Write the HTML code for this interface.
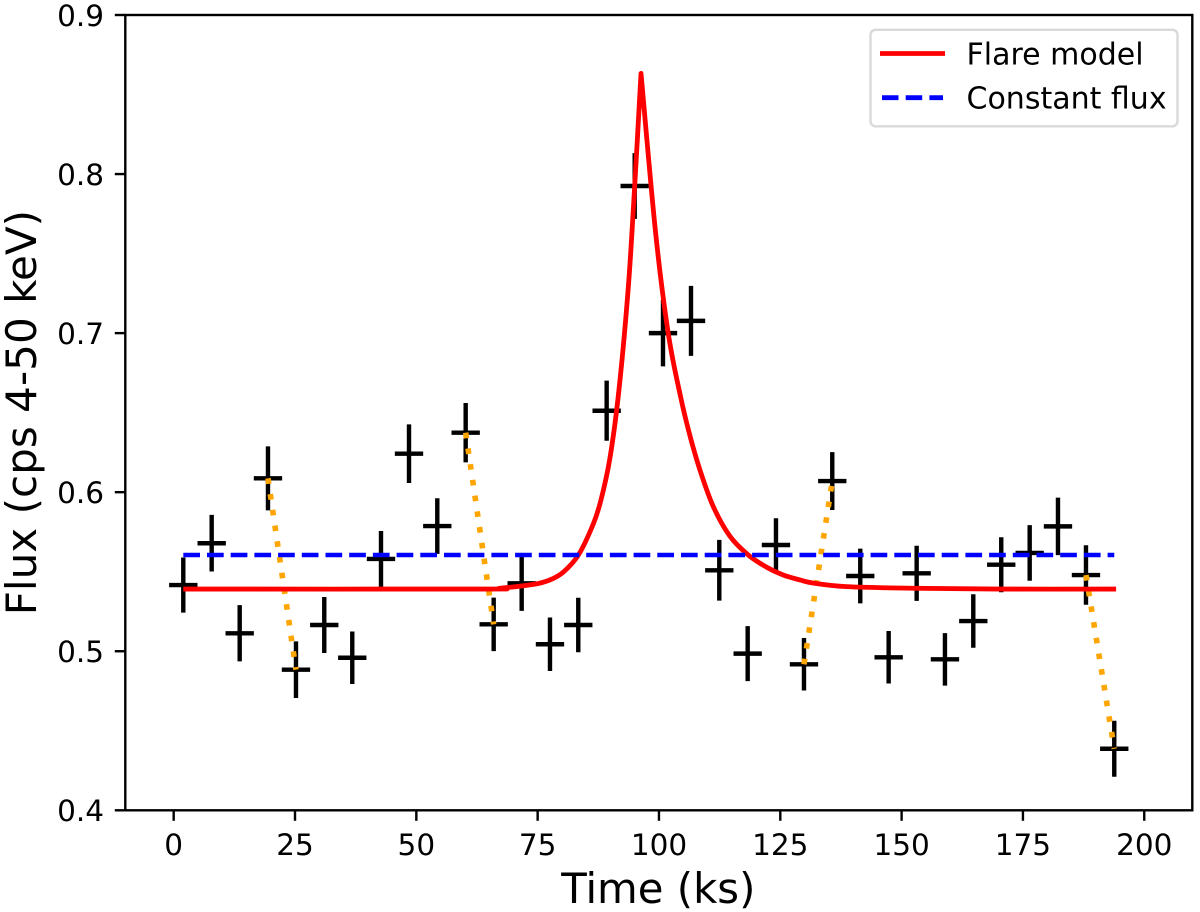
<!DOCTYPE html>
<html lang="en">
<head>
<meta charset="utf-8">
<title>Flare model light curve</title>
<style>
  html, body { margin: 0; padding: 0; background: #fff; }
  svg { display: block; font-family: "DejaVu Sans", "Liberation Sans", sans-serif; fill: #000; }
</style>
</head>
<body>
<svg id="chart" xmlns="http://www.w3.org/2000/svg" width="1200" height="912" viewBox="0 0 1200 912">
  <rect x="0" y="0" width="1200" height="912" fill="#fff"/>
  <g id="marks"></g>
  <g id="axes"></g>
  <text x="658.3" y="903" font-size="41.8" text-anchor="middle">Time (ks)</text>
  <text transform="translate(36 412.6) rotate(-90)" font-size="42.1" text-anchor="middle">Flux (cps 4-50 keV)</text>
  <g>
    <rect x="870.5" y="29.8" width="307" height="96.5" rx="5" fill="#fff" fill-opacity="0.8" stroke="#d9d9d9" stroke-width="2.4"/>
    <line x1="880" y1="53.5" x2="945" y2="53.5" stroke="#f00" stroke-width="4.8"/>
    <line x1="882" y1="97.7" x2="943" y2="97.7" stroke="#00f" stroke-width="4.8" stroke-dasharray="16.5 7.2"/>
    <text x="966.5" y="64.5" font-size="30">Flare model</text>
    <text x="966.5" y="108.3" font-size="30">Constant flux</text>
  </g>
</svg>
<script>
// ---- Data ----
const times = [1.98, 7.83, 13.6, 19.43, 25.2, 31.03, 36.8, 42.72, 48.49, 54.32, 60.17, 65.94, 71.71, 77.54, 83.37, 89.22, 95.0, 100.83, 106.6, 112.43, 118.28, 124.11, 129.88, 135.71, 141.48, 147.33, 153.1, 158.93, 164.77, 170.53, 176.39, 182.22, 187.99, 193.82];
const fluxes = [0.5416, 0.5679, 0.5113, 0.6087, 0.4884, 0.5165, 0.4959, 0.558, 0.6242, 0.5787, 0.6374, 0.5169, 0.5427, 0.5044, 0.5165, 0.6512, 0.7925, 0.7, 0.7077, 0.5509, 0.4985, 0.5668, 0.4918, 0.607, 0.5473, 0.4962, 0.549, 0.4949, 0.519, 0.5544, 0.5618, 0.5785, 0.5479, 0.4387];
const fluxErrors = [0.0173, 0.0178, 0.0177, 0.0201, 0.0178, 0.0176, 0.0165, 0.0176, 0.0184, 0.0175, 0.0187, 0.0168, 0.0173, 0.0168, 0.0171, 0.0189, 0.0207, 0.0209, 0.022, 0.0191, 0.0173, 0.0168, 0.0165, 0.0182, 0.0172, 0.0165, 0.0173, 0.0165, 0.0168, 0.0173, 0.0175, 0.0181, 0.0187, 0.0176];
const binHalfWidth = 2.92;
const flareTimes = [1.98, 63.1, 67.2, 74.1, 77.5, 80.3, 83.4, 86.46, 88.05, 89.9, 91.75, 93.67, 94.95, 96.3, 99.27, 101.9, 104.47, 106.4, 108.45, 111.2, 114.6, 118.4, 122.2, 125.6, 129.05, 131.7, 138.7, 152.3, 170.3, 194.2];
const flareFluxes = [0.5391, 0.5391, 0.5396, 0.542, 0.5448, 0.5498, 0.5605, 0.58, 0.5951, 0.6215, 0.6642, 0.7284, 0.79, 0.8633, 0.7642, 0.7001, 0.6598, 0.6353, 0.6139, 0.5909, 0.5724, 0.5605, 0.5528, 0.5479, 0.5448, 0.5429, 0.5406, 0.5396, 0.5391, 0.5391];
const constantFlux = 0.5605;
const linkedFrom = [3, 10, 22, 32];
const linkedTo = [4, 11, 23, 33];
const xTickValues = [0, 25, 50, 75, 100, 125, 150, 175, 200];
const yTickLabels = ['0.4', '0.5', '0.6', '0.7', '0.8', '0.9'];

// ---- Axis functions ----
const plotLeft = 125.3, plotRight = 1192.3, plotTop = 15, plotBottom = 810.3;
const xMin = -9.97, xMax = 209.9, yMin = 0.4, yMax = 0.9;
function xScale(t) { return plotLeft + (t - xMin) / (xMax - xMin) * (plotRight - plotLeft); }
function yScale(v) { return plotBottom - (v - yMin) / (yMax - yMin) * (plotBottom - plotTop); }

const NS = 'http://www.w3.org/2000/svg';
const marks = document.getElementById('marks');
const axes = document.getElementById('axes');
function make(tag, parent, props) {
  const node = document.createElementNS(NS, tag);
  for (const key in props) node.setAttribute(key, props[key]);
  parent.appendChild(node);
  return node;
}

// Smooth path through screen points (Catmull-Rom), keeping a sharp corner at the peak
function smoothSegment(pts) {
  let d = '';
  for (let i = 0; i < pts.length - 1; i++) {
    const p0 = pts[Math.max(i - 1, 0)], p1 = pts[i], p2 = pts[i + 1], p3 = pts[Math.min(i + 2, pts.length - 1)];
    const c1x = p1[0] + (p2[0] - p0[0]) / 6, c1y = p1[1] + (p2[1] - p0[1]) / 6;
    const c2x = p2[0] - (p3[0] - p1[0]) / 6, c2y = p2[1] - (p3[1] - p1[1]) / 6;
    d += ' C' + c1x.toFixed(2) + ' ' + c1y.toFixed(2) + ' ' + c2x.toFixed(2) + ' ' + c2y.toFixed(2) + ' ' + p2[0].toFixed(2) + ' ' + p2[1].toFixed(2);
  }
  return d;
}

// Error-bar crosses
times.forEach(function (t, i) {
  const g = make('g', marks, { stroke: '#000', 'stroke-width': 4.4 });
  
  
  make('line', g, { x1: xScale(t), x2: xScale(t), y1: yScale(fluxes[i] + fluxErrors[i]), y2: yScale(fluxes[i] - fluxErrors[i]) });
  make('line', g, { x1: xScale(t - binHalfWidth), x2: xScale(t + binHalfWidth), y1: yScale(fluxes[i]), y2: yScale(fluxes[i]) });
});

// Orange dotted links
linkedFrom.forEach(function (a, i) {
  const b = linkedTo[i];
  const link = make('line', marks, { x1: xScale(times[a]), y1: yScale(fluxes[a]), x2: xScale(times[b]), y2: yScale(fluxes[b]), stroke: '#ffa500', 'stroke-width': 5.6, 'stroke-dasharray': '5.6 10.3' });
  
  
});

// Flare model
const flareScreen = flareTimes.map(function (t, i) { return [xScale(t), yScale(flareFluxes[i])]; });
const peakIndex = flareFluxes.indexOf(Math.max.apply(null, flareFluxes));
const flarePath = 'M' + flareScreen[0][0].toFixed(2) + ' ' + flareScreen[0][1].toFixed(2) +
  smoothSegment(flareScreen.slice(0, peakIndex + 1)) + smoothSegment(flareScreen.slice(peakIndex));
const flareLine = make('path', marks, { d: flarePath, fill: 'none', stroke: '#f00', 'stroke-width': 4.8, 'stroke-linejoin': 'round' });



// Constant flux
const constantLine = make('line', marks, { x1: xScale(times[0]), x2: xScale(times[times.length - 1]), y1: yScale(constantFlux), y2: yScale(constantFlux), stroke: '#00f', 'stroke-width': 4.6, 'stroke-dasharray': '16.7 7' });



// Frame
const frame = make('rect', axes, { x: plotLeft, y: plotTop, width: plotRight - plotLeft, height: plotBottom - plotTop, fill: 'none', stroke: '#000', 'stroke-width': 2.4 });



// X ticks
xTickValues.forEach(function (v) {
  const tick = make('line', axes, { x1: xScale(v), x2: xScale(v), y1: plotBottom, y2: plotBottom + 10.5, stroke: '#000', 'stroke-width': 2.4 });
  
  
  const label = make('text', axes, { x: xScale(v), y: 855, 'font-size': 29.5, 'text-anchor': 'middle' });
  label.textContent = String(v);
  
  
});

// Y ticks
yTickLabels.forEach(function (s) {
  const v = parseFloat(s);
  const tick = make('line', axes, { x1: plotLeft - 10.5, x2: plotLeft, y1: yScale(v), y2: yScale(v), stroke: '#000', 'stroke-width': 2.4 });
  
  
  const label = make('text', axes, { x: 104, y: yScale(v) + 10.8, 'font-size': 29.5, 'text-anchor': 'end' });
  label.textContent = s;
  
  
});
</script>
</body>
</html>
